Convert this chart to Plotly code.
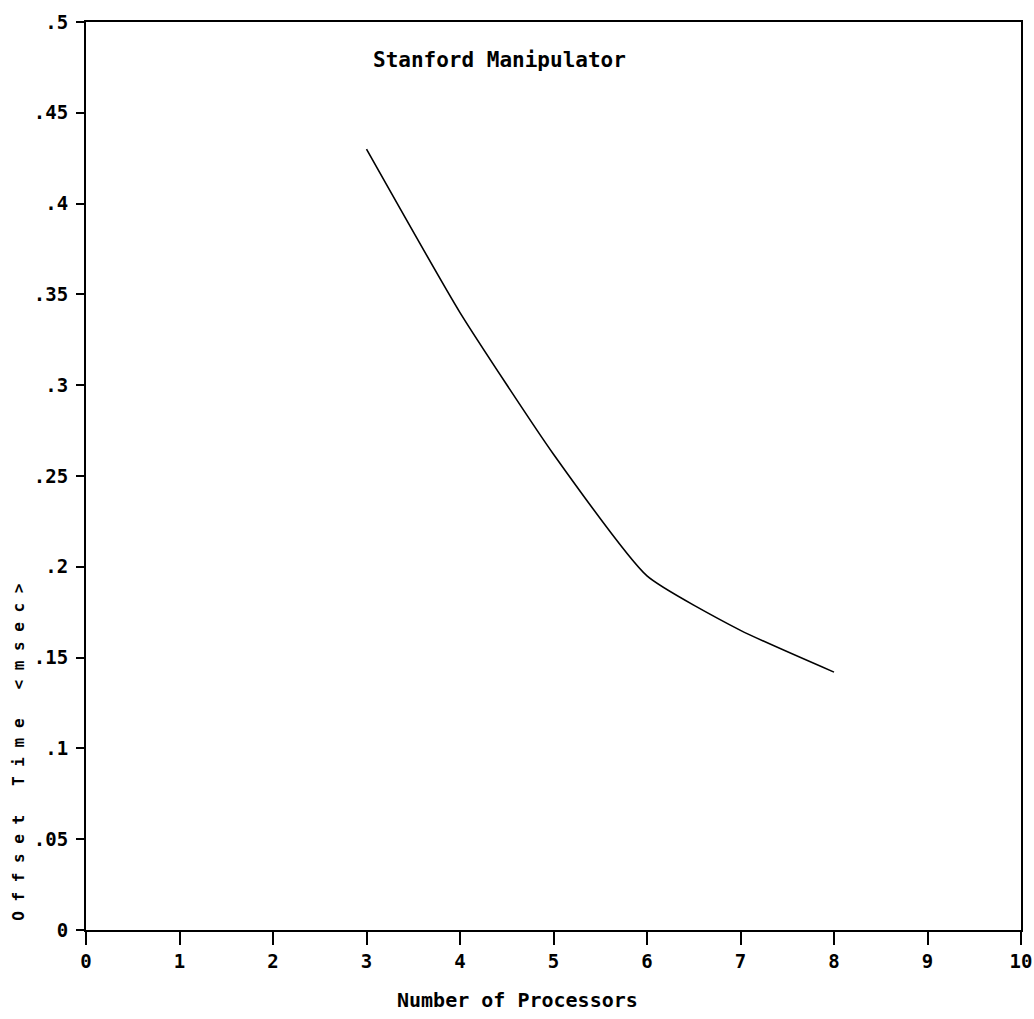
import plotly.graph_objects as go

processors = [3, 4, 5, 6, 7, 8]
offset_time = [0.430, 0.340, 0.262, 0.195, 0.165, 0.142]

x_ticks = list(range(0, 11))
x_ticktext = [str(v) for v in x_ticks]
y_ticks = [0, 0.05, 0.1, 0.15, 0.2, 0.25, 0.3, 0.35, 0.4, 0.45, 0.5]
y_ticktext = ["0", ".05", ".1", ".15", ".2", ".25", ".3", ".35", ".4", ".45", ".5"]

title_text = "Stanford Manipulator"
x_title = "Number of Processors"
y_title = "Offset Time <msec>"

FONT = "DejaVu Sans Mono"

fig = go.Figure()
fig.add_trace(go.Scatter(
    x=processors, y=offset_time, mode="lines",
    line=dict(color="black", width=1.6, shape="spline", smoothing=0.5),
    showlegend=False, hoverinfo="skip",
))

fig.update_layout(
    width=1034, height=1019,
    margin=dict(l=86, r=13, t=22, b=89, autoexpand=False),
    paper_bgcolor="white", plot_bgcolor="white",
    font=dict(family=FONT, color="black", size=17, weight="bold"),
    xaxis=dict(
        range=[0, 10], tickmode="array", tickvals=x_ticks, ticktext=x_ticktext,
        showgrid=False, zeroline=False, showline=True, linecolor="black",
        linewidth=2, mirror=True, ticks="outside", ticklen=13, tickwidth=1.5,
        tickcolor="black", tickfont=dict(family=FONT, size=19, weight="bold"),
        automargin=False,
    ),
    yaxis=dict(
        range=[0, 0.5], tickmode="array", tickvals=y_ticks, ticktext=y_ticktext,
        showgrid=False, zeroline=False, showline=True, linecolor="black",
        linewidth=2, mirror=True, ticks="outside", ticklen=8, tickwidth=1.5,
        tickcolor="black", tickfont=dict(family=FONT, size=19, weight="bold"),
        ticklabelstandoff=4, automargin=False,
    ),
)

fig.add_annotation(
    text=title_text, x=4.42, y=0.479, xref="x", yref="y", showarrow=False,
    xanchor="center", yanchor="middle",
    font=dict(family=FONT, size=21, weight="bold"),
)
fig.add_annotation(
    text=x_title, x=0.462, y=-0.077, xref="paper", yref="paper", showarrow=False,
    xanchor="center", yanchor="middle",
    font=dict(family=FONT, size=20, weight="bold"),
)
fig.add_annotation(
    text=" ".join(list(y_title)), x=-0.073, y=0.196, xref="paper", yref="paper",
    showarrow=False, textangle=-90, xanchor="center", yanchor="middle",
    font=dict(family=FONT, size=16, weight="bold"),
)

fig.write_html(
    "out.html",
    config={"displayModeBar": False},
    post_script="document.body.style.margin='0';document.body.style.overflow='hidden';",
)
